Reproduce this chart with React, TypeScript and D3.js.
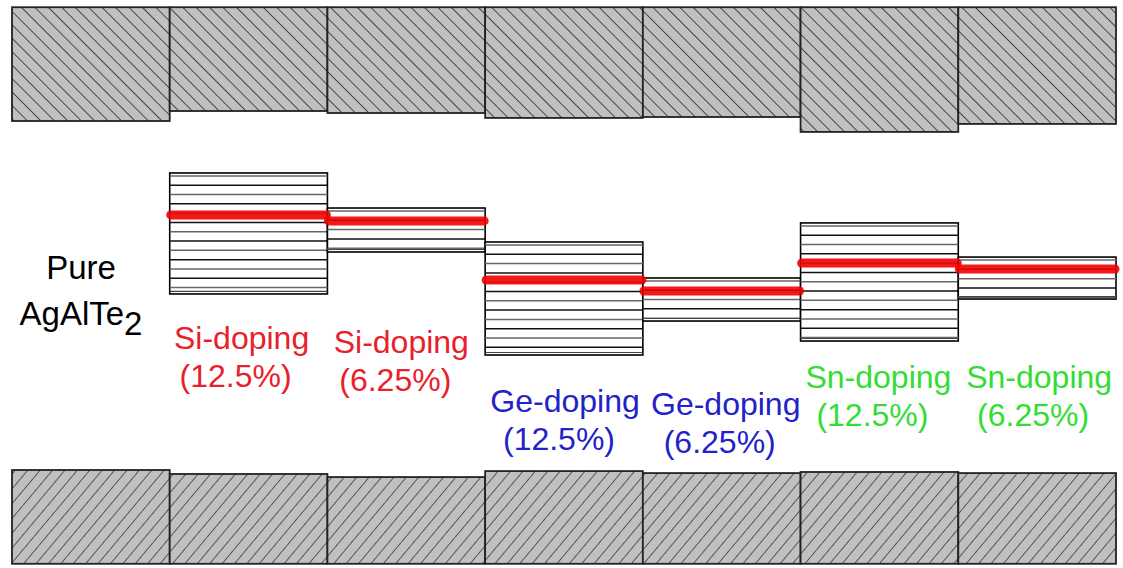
import React from 'react';
import { scaleLinear, scaleBand, range } from 'd3';

// band edges in eV, valence band maximum of pure AgAlTe2 = 0
const categories = ['Pure', 'Si-12.5', 'Si-6.25', 'Ge-12.5', 'Ge-6.25', 'Sn-12.5', 'Sn-6.25'];
const cbm = [2.27, 2.335, 2.322, 2.29, 2.296, 2.199, 2.251];
const vbm = [0, -0.026, -0.046, -0.007, -0.02, -0.013, -0.02];
const cbTop = [3.01, 3.01, 3.01, 3.01, 3.01, 3.01, 3.01];
const vbBottom = [-0.61, -0.61, -0.61, -0.61, -0.61, -0.61, -0.61];

// impurity bands and Fermi level (doped cells only)
const impTop = [NaN, 1.932, 1.704, 1.483, 1.249, 1.607, 1.385];
const impBottom = [NaN, 1.145, 1.418, 0.748, 0.969, 0.839, 1.112];
const fermi = [NaN, 1.659, 1.62, 1.236, 1.164, 1.346, 1.307];

const dopant = ['', 'Si', 'Si', 'Ge', 'Ge', 'Sn', 'Sn'];
const concentration = ['', '12.5%', '6.25%', '12.5%', '6.25%', '12.5%', '6.25%'];

const dopantColor: Record<string, string> = { Si: '#e8202a', Ge: '#2222c8', Sn: '#33dd33' };
// label baselines (layout only)
const labelY = [0, 349, 353, 412, 415, 388, 388];
const labelDx = [0, -7, -5, 1, 4, -1, 2];

const W = 1123;
const H = 568;
const font = '"Liberation Sans", Arial, sans-serif';

export default function App() {
  const x = scaleBand<string>().domain(categories).range([12, 1116]).paddingInner(0);
  const y = scaleLinear().domain([0, 2.27]).range([470, 121]);
  const bw = x.bandwidth();

  return (
    <svg width={W} height={H} style={{ position: 'absolute', left: 0, top: 0, background: '#fff' }}>
      <defs>
        <pattern id="cbHatch" width="9.5" height="9.5" patternUnits="userSpaceOnUse" patternTransform="rotate(-45)">
          <rect width="9.5" height="9.5" fill="#c0c0c0" />
          <line x1="0" y1="0" x2="0" y2="9.5" stroke="#2a2a2a" strokeWidth="1.6" />
        </pattern>
        <pattern id="vbHatch" width="9.5" height="9.5" patternUnits="userSpaceOnUse" patternTransform="rotate(40)">
          <rect width="9.5" height="9.5" fill="#c0c0c0" />
          <line x1="0" y1="0" x2="0" y2="9.5" stroke="#2a2a2a" strokeWidth="1.4" />
        </pattern>
      </defs>

      {/* conduction bands */}
      {categories.map((c, i) => (
        <rect key={'cb' + c} x={x(c)} y={y(cbTop[i])} width={bw} height={y(cbm[i]) - y(cbTop[i])}
          fill="url(#cbHatch)" stroke="#222" strokeWidth={1.8} />
      ))}

      {/* valence bands */}
      {categories.map((c, i) => (
        <rect key={'vb' + c} x={x(c)} y={y(vbm[i])} width={bw} height={y(vbBottom[i]) - y(vbm[i])}
          fill="url(#vbHatch)" stroke="#222" strokeWidth={1.8} />
      ))}

      {/* impurity bands */}
      {categories.map((c, i) => {
        if (isNaN(impTop[i])) return null;
        const x0 = x(c) as number;
        const top = y(impTop[i]);
        const bottom = y(impBottom[i]);
        const lines = range(top + 3, bottom - 1, 9.3);
        return (
          <g key={'imp' + c}>
            <rect x={x0} y={top} width={bw} height={bottom - top} fill="#fff" stroke="#000" strokeWidth={1.6} />
            {lines.map((ly, k) => (
              <line key={k} x1={x0} x2={x0 + bw} y1={ly} y2={ly}
                stroke={k % 2 ? '#111' : '#666'} strokeWidth={1.5} />
            ))}
            <line x1={x0} x2={x0 + bw} y1={bottom - 2.5} y2={bottom - 2.5} stroke="#444" strokeWidth={1.2} />
          </g>
        );
      })}

      {/* Fermi levels */}
      {categories.map((c, i) => {
        if (isNaN(fermi[i])) return null;
        const x0 = x(c) as number;
        return (
          <line key={'ef' + c} x1={x0 + 1} x2={x0 + bw - 1} y1={y(fermi[i])} y2={y(fermi[i])}
            stroke="#f00000" strokeOpacity={0.9} strokeWidth={9} strokeLinecap="round" />
        );
      })}

      {/* labels */}
      <g fontFamily={font} fontSize={32}>
        <text x={81} y={279} textAnchor="middle" fill="#000" fontSize={33}>Pure</text>
        <text x={81} y={325} textAnchor="middle" fill="#000" fontSize={33}>
          AgAlTe<tspan dy={10}>2</tspan>
        </text>
        {categories.map((c, i) => {
          if (!dopant[i]) return null;
          const cx = (x(c) as number) + bw / 2 + labelDx[i];
          const col = dopantColor[dopant[i]];
          return (
            <g key={'lab' + c} fill={col} textAnchor="middle">
              <text x={cx} y={labelY[i]}>{dopant[i]}-doping</text>
              <text x={cx - 6} y={labelY[i] + 38}>({concentration[i]})</text>
            </g>
          );
        })}
      </g>
    </svg>
  );
}
